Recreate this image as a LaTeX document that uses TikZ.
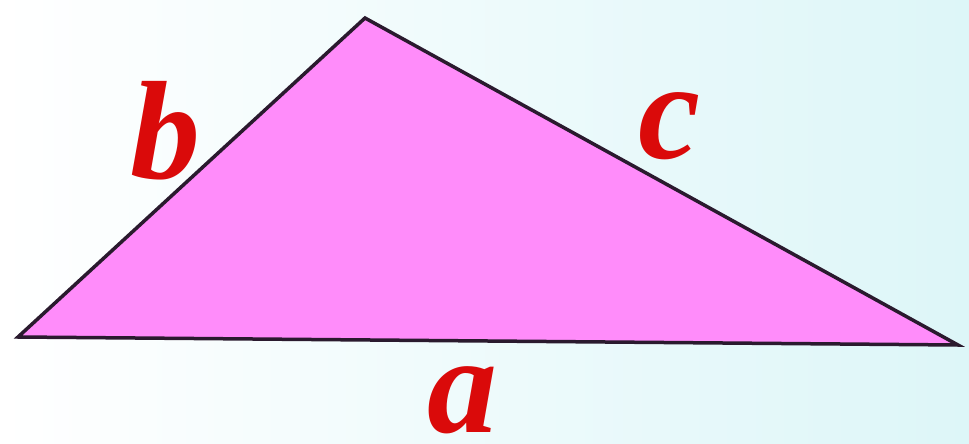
\documentclass[tikz,border=0pt]{standalone}
\usepackage{fontspec}
\setmainfont{Liberation Serif}
\definecolor{bgright}{HTML}{DDF6F8}
\definecolor{trifill}{HTML}{FF8CFA}
\definecolor{edge}{HTML}{2A1A2E}
\definecolor{lblred}{HTML}{DA0A0A}
\begin{document}
\begin{tikzpicture}[x=1pt,y=-1pt,
  lbl/.style={text=lblred,font=\fontsize{140}{140}\selectfont\bfseries\itshape,inner sep=0pt}]
\useasboundingbox (0,0) rectangle (969,444);
\shade[left color=white,right color=bgright] (0,0) rectangle (969,444);
\coordinate (L) at (18,337);
\coordinate (T) at (365,18);
\coordinate (R) at (958,345);
\filldraw[fill=trifill,draw=edge,line width=3.5pt,line join=miter] (L) -- (T) -- (R) -- cycle;
\node[lbl,anchor=base] (b) at (165,178) {b};
\node[lbl,anchor=base] (c) at (670,158) {c};
\node[lbl,anchor=base] (a) at (462,432) {a};
\end{tikzpicture}
\end{document}
